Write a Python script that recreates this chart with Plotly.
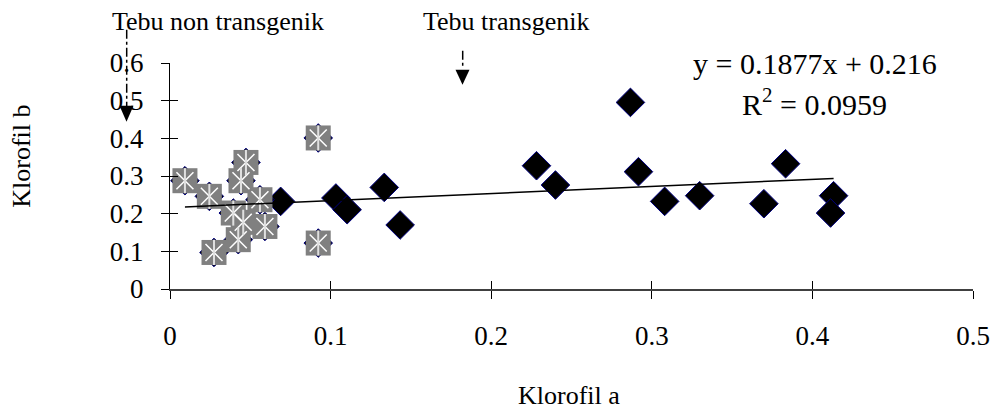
import plotly.graph_objects as go

# ---- data ----
trans_x = [0.0689, 0.1033, 0.1103, 0.1334, 0.1433, 0.2282, 0.240, 0.2867,
           0.2917, 0.308, 0.3298, 0.3698, 0.3833, 0.4132, 0.4113]
trans_y = [0.2326, 0.2416, 0.2105, 0.2697, 0.170, 0.3273, 0.276, 0.4954,
           0.3114, 0.2326, 0.2477, 0.2264, 0.3326, 0.2477, 0.2017]

non_x = [0.0093, 0.0245, 0.0473, 0.0442, 0.056, 0.0394, 0.0456, 0.0591,
         0.0425, 0.0274, 0.0923, 0.0923]
non_y = [0.2875, 0.246, 0.336, 0.2875, 0.237, 0.2017, 0.177, 0.166,
         0.131, 0.097, 0.401, 0.122]

slope = 0.1877
intercept = 0.216
r2 = 0.0959

x_ticks = [0, 0.1, 0.2, 0.3, 0.4, 0.5]
y_ticks = [0, 0.1, 0.2, 0.3, 0.4, 0.5, 0.6]

x_title = "Klorofil a"
y_title = "Klorofil b"
label_non = "Tebu non transgenik"
label_trans = "Tebu transgenik"

# ---- layout geometry (body margin removed, figure fills the window) ----
W, H = 993, 411
# plot area in page pixels: x 170..973, y 63.3..289.3
PL, PR, PT, PB = 170, 973, 63.3, 289.3
ML, MR, MT, MB = PL, W - PR, PT, H - PB
PW, PH = W - ML - MR, H - MT - MB


def px(x):
    return (x - ML) / PW


def py(y):
    return (H - MB - y) / PH


FONT = "Liberation Serif"
FS = 26

all_x = trans_x + non_x
all_y = trans_y + non_y

fig = go.Figure()

# all data as black diamonds
fig.add_trace(go.Scatter(
    x=all_x, y=all_y, mode="markers",
    marker=dict(symbol="diamond", size=22, color="black",
                line=dict(color="#000080", width=1)),
    hoverinfo="skip", showlegend=False))

# non transgenic overlay: grey squares with white star
fig.add_trace(go.Scatter(
    x=non_x, y=non_y, mode="markers",
    marker=dict(symbol="square", size=25, color="#808080",
                line=dict(color="#808080", width=0)),
    hoverinfo="skip", showlegend=False))
fig.add_trace(go.Scatter(
    x=non_x, y=non_y, mode="markers",
    marker=dict(symbol="x-thin-open", size=17, color="white",
                line=dict(color="white", width=1.5)),
    hoverinfo="skip", showlegend=False))
fig.add_trace(go.Scatter(
    x=non_x, y=non_y, mode="markers",
    marker=dict(symbol="line-ns-open", size=18, color="#e0e0e0",
                line=dict(color="#e0e0e0", width=2)),
    hoverinfo="skip", showlegend=False))

# linear trendline over data range
x0, x1 = min(all_x), max(all_x)
fig.add_trace(go.Scatter(
    x=[x0, x1], y=[slope * x0 + intercept, slope * x1 + intercept],
    mode="lines", line=dict(color="black", width=1.5),
    hoverinfo="skip", showlegend=False))

# dummy trace for the cross-tick overlay axes
fig.add_trace(go.Scatter(x=[0], y=[0], xaxis="x2", yaxis="y2", mode="markers",
                         marker=dict(opacity=0), hoverinfo="skip", showlegend=False))

axis_common = dict(showgrid=False, zeroline=False, ticklen=8, tickwidth=1,
                   tickcolor="black", automargin=False,
                   tickfont=dict(family=FONT, size=27, color="black"))

fig.update_layout(
    width=W, height=H, autosize=False,
    margin=dict(l=ML, r=MR, t=MT, b=MB, pad=0, autoexpand=False),
    paper_bgcolor="white", plot_bgcolor="white",
    showlegend=False,
    font=dict(family=FONT, size=FS, color="black"),
    xaxis=dict(range=[0, 0.5], tickvals=x_ticks, ticks="outside",
               showline=True, linecolor="#404040", linewidth=1.5,
               ticklabelstandoff=14, **axis_common),
    yaxis=dict(range=[0, 0.6], tickvals=y_ticks, ticks="outside",
               showline=True, linecolor="black", linewidth=1,
               ticklabelstandoff=12, **axis_common),
    xaxis2=dict(overlaying="x", matches="x", range=[0, 0.5], tickvals=x_ticks,
                ticks="inside", showticklabels=False, showline=False,
                showgrid=False, zeroline=False, ticklen=8, tickcolor="black"),
    yaxis2=dict(overlaying="y", matches="y", range=[0, 0.6], tickvals=y_ticks,
                ticks="inside", showticklabels=False, showline=False,
                showgrid=False, zeroline=False, ticklen=8, tickcolor="black"),
)

font = dict(family=FONT, size=FS, color="black")
eqfont = dict(family=FONT, size=30, color="black")
annotations = [
    dict(text=x_title, x=px(569), y=py(396), font=font),
    dict(text=y_title, x=px(22), y=py(157), textangle=-90, font=font),
    dict(text=label_non, x=px(218), y=py(22), font=font),
    dict(text=label_trans, x=px(506), y=py(22), font=font),
    dict(text=f"y = {slope}x + {intercept}", x=px(815), y=py(64), font=eqfont),
    dict(text=f"R<sup>2</sup> = {r2}", x=px(814), y=py(102), font=eqfont),
]
for a in annotations:
    fig.add_annotation(xref="paper", yref="paper", showarrow=False,
                       xanchor="center", yanchor="middle", **a)

# dashed arrow markers for the group labels
shapes = [
    dict(type="line", x0=px(126.7), x1=px(126.7), y0=py(30), y1=py(108),
         line=dict(color="black", width=1.5, dash="dashdot")),
    dict(type="path",
         path=f"M {px(119.5)} {py(106)} L {px(133.5)} {py(106)} L {px(126.5)} {py(122)} Z",
         fillcolor="black", line=dict(color="black", width=0)),
    dict(type="line", x0=px(462.7), x1=px(462.7), y0=py(51), y1=py(67),
         line=dict(color="black", width=1.5, dash="dashdot")),
    dict(type="path",
         path=f"M {px(455.5)} {py(70)} L {px(469.5)} {py(70)} L {px(462.5)} {py(85)} Z",
         fillcolor="black", line=dict(color="black", width=0)),
]
for s in shapes:
    fig.add_shape(xref="paper", yref="paper", **s)

fig.write_html(
    "out.html",
    config={"displayModeBar": False},
    post_script="document.body.style.margin='0';"
                "document.body.style.overflow='hidden';",
)
